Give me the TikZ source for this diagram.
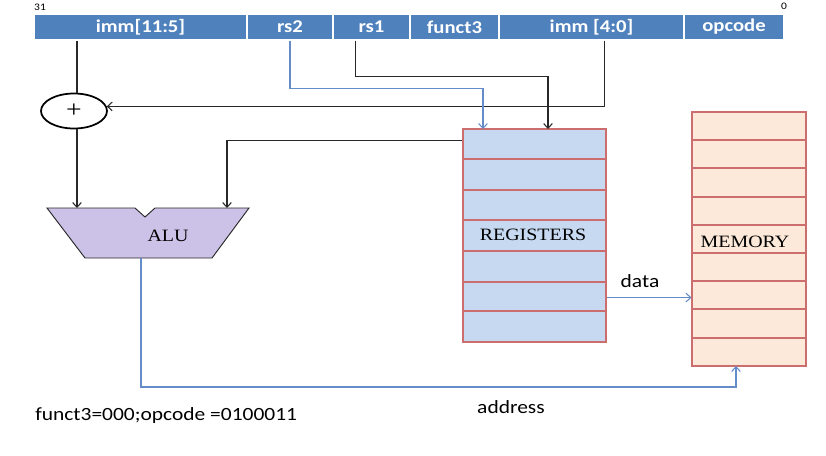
\documentclass[tikz,border=0pt]{standalone}
\usepackage{fontspec}
\usetikzlibrary{arrows.meta,shapes.geometric,calc}
\newfontfamily\sansf[FakeStretch=1.15]{Carlito}
\newfontfamily\seriff[FakeStretch=1.15]{Liberation Serif}
\definecolor{barblue}{RGB}{79,129,189}
\definecolor{lineblue}{RGB}{100,140,200}
\definecolor{regfill}{RGB}{198,217,241}
\definecolor{memfill}{RGB}{253,233,217}
\definecolor{cellred}{RGB}{205,110,110}
\definecolor{alufill}{RGB}{204,193,230}
\definecolor{darkline}{RGB}{40,40,40}
\tikzset{
  cell/.style={rectangle, fill=barblue, draw=white, line width=1pt, minimum height=19.5pt, inner sep=0pt,
    text=white, font=\sansf\bfseries\fontsize{13.5}{15}\selectfont},
  blk/.style={draw=darkline, line width=0.8pt},
  blu/.style={draw=lineblue, line width=0.8pt},
  arr/.style={-{Straight Barb[length=3.5pt,width=6.5pt]}},
  lbl/.style={font=\sansf\fontsize{14}{16}\selectfont, text=black, inner sep=0pt},
  slbl/.style={font=\seriff\fontsize{13}{15}\selectfont, text=black, inner sep=0pt},
  bank/.style={rectangle, draw=cellred, line width=0.8pt, inner sep=0pt}
}
\begin{document}
\begin{tikzpicture}[x=0.75pt,y=-0.75pt]
\useasboundingbox (0,0) rectangle (826,455);
% instruction bar
\node[cell, minimum width=159.75pt] (imm1) at (140.5,27) {imm[11:5]};
\node[cell, minimum width=64.5pt] (rs2) at (290,27) {rs2};
\node[cell, minimum width=57.75pt] (rs1) at (371.5,27) {rs1};
\node[cell, minimum width=66.75pt] (f3) at (454.5,27) {funct3};
\node[cell, minimum width=138.75pt] (imm2) at (591.5,27) {imm [4:0]};
\node[cell, minimum width=75pt] (opc) at (734,27) {opcode};
\node[font=\sansf\fontsize{7.5}{9}\selectfont, inner sep=0pt] (b31) at (40,7) {31};
\node[font=\sansf\fontsize{7.5}{9}\selectfont, inner sep=0pt] (b0) at (784,6) {0};
% adder
\node[ellipse, draw=black, line width=1.3pt, fill=white, minimum width=49.5pt, minimum height=26.25pt, inner sep=0pt,
  font=\seriff\fontsize{18}{20}\selectfont] (add) at (74,111) {+};
% ALU
\draw[draw=darkline, line width=0.7pt, fill=alufill]
  (47,208) -- (135,208) -- (145,217) -- (155,208) -- (249,208) -- (212,258) -- (85,258) -- cycle;
\node[slbl] (alu) at (168,236) {ALU};
\coordinate (in1) at (77,208);
\coordinate (in2) at (227,208);
\coordinate (aluout) at (141,258);
% registers
\node[bank, fill=regfill, minimum width=107.25pt, minimum height=159.75pt] (reg) at (534.5,235.5) {};
\foreach \y in {159,190,220,251,282,311} \draw[draw=cellred, line width=0.8pt] (463,\y) -- (606,\y);
\node[slbl] (regt) at (533,235) {REGISTERS};
% memory
\node[bank, fill=memfill, minimum width=85.5pt, minimum height=190.5pt] (mem) at (749,239) {};
\foreach \y in {140,168,197,225,253,281,309,338} \draw[draw=cellred, line width=0.8pt] (692,\y) -- (806,\y);
\node[slbl] (memt) at (745,242) {MEMORY};
% connectors
\coordinate (r2in) at (483,129);
\coordinate (r1in) at (548,129);
\coordinate (memin) at (736,366);
\draw[blk] (imm1.south -| in1) -- (in1 |- add.north);
\draw[blk, arr] ([xshift=10pt]imm2.south) |- (add.8);
\draw[blk, arr] (in1 |- add.south) -- (in1);
\draw[blk, arr] ([yshift=-9pt]reg.north west) -| (in2);
\draw[blu, arr] (rs2.south) -- ++(0,48) -| (r2in);
\draw[blk, arr] ([xshift=-12pt]rs1.south) -- ++(0,36) -| (r1in);
\draw[blu, arr] ([yshift=33.75pt]reg.south east) coordinate (d0) -- (d0 -| mem.west);
\draw[blu, arr] (aluout) -- ++(0,129) -| (memin);
% labels
\node[lbl] (data) at (640,281) {data};
\node[lbl] (addr) at (511,407) {address};
\node[lbl, anchor=west] (code) at (35,416) {funct3=000;opcode =0100011};
\end{tikzpicture}
\end{document}
